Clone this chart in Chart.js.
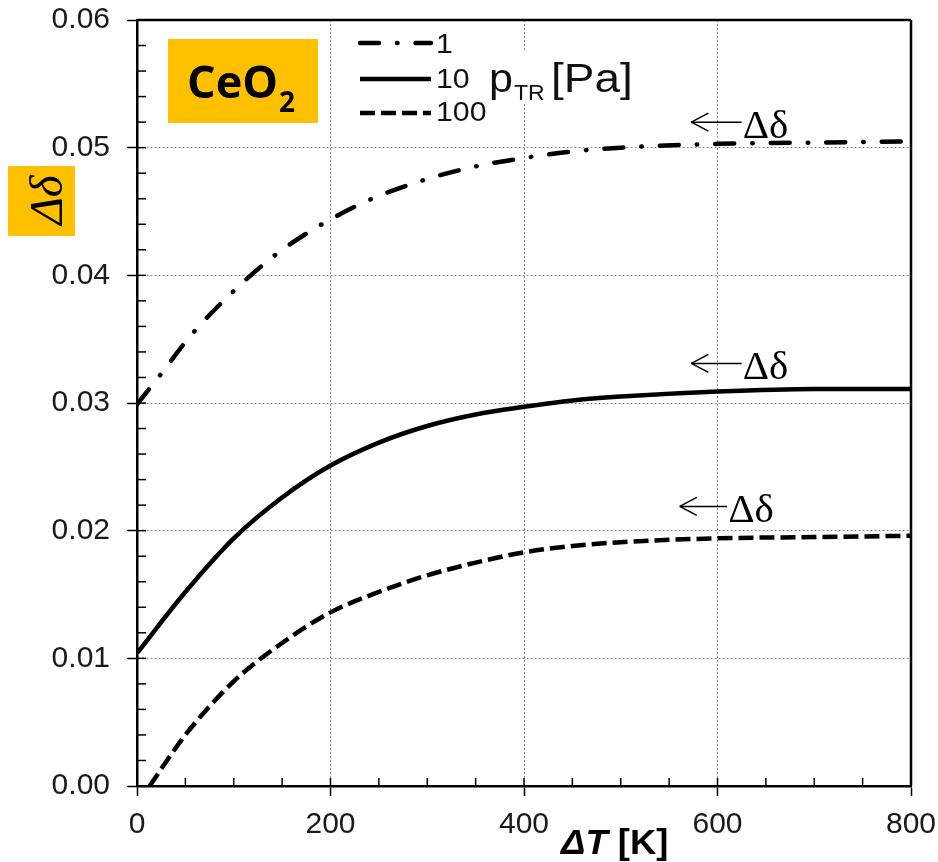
<!DOCTYPE html>
<html><head><meta charset="utf-8">
<script src="https://cdn.jsdelivr.net/npm/chart.js@4.4.1/dist/chart.umd.min.js"></script>
<style>html,body{margin:0;padding:0;background:#fff;}canvas{display:block;}</style>
</head><body>
<canvas id="c" width="938" height="862"></canvas>
<script>
// ---- data ----
const deltaT1   = [0, 22, 58, 99, 143, 191, 243, 298, 354, 392, 450, 500, 600, 700, 800];
const dd_p1     = [0.0299, 0.0320, 0.0355, 0.0387, 0.0416, 0.0440, 0.0460, 0.0475, 0.0486, 0.0491, 0.0497, 0.0500, 0.0503, 0.0504, 0.0505];
const deltaT10  = [0, 50, 100, 150, 200, 250, 300, 350, 400, 450, 500, 600, 700, 800];
const dd_p10    = [0.0104, 0.0152, 0.0194, 0.0226, 0.0251, 0.0269, 0.0282, 0.0291, 0.0297, 0.0302, 0.0305, 0.0309, 0.0311, 0.0311];
const deltaT100 = [13, 50, 100, 150, 200, 250, 300, 350, 400, 450, 500, 600, 700, 800];
const dd_p100   = [0.0000, 0.0040, 0.0082, 0.0112, 0.0136, 0.0152, 0.0165, 0.0175, 0.0183, 0.0188, 0.0191, 0.0194, 0.0195, 0.0196];
const pressures = ['1', '10', '100'];
const xTickVals = [0, 200, 400, 600, 800];
const yTickVals = [0, 0.01, 0.02, 0.03, 0.04, 0.05, 0.06];
const xMinorStep = 50;
const yMinorStep = 0.002;
// annotation arrows "←Δδ" (data coords)
const arrowTipX  = [573, 573, 561];
const arrowTailX = [625, 625, 610];
const arrowY     = [0.0520, 0.0331, 0.0219];

const pts = (xs, ys) => xs.map((v, i) => ({x: v, y: ys[i]}));
const DASHDOT = [19, 18, 0.5, 18];
const DASHED = [15, 6];
const styles = [
  {dash: DASHDOT, cap: 'round'},
  {dash: [], cap: 'butt'},
  {dash: DASHED, cap: 'butt'}
];
const ORANGE = '#FFC000';

function stretchText(ctx, txt, x, y, sx) {
  ctx.save(); ctx.translate(x, y); ctx.scale(sx, 1); ctx.fillText(txt, 0, 0); ctx.restore();
  return ctx.measureText(txt).width * sx;
}

const decor = {
  id: 'decor',
  beforeDraw(chart) {
    const ctx = chart.ctx;
    ctx.save(); ctx.fillStyle = '#fff'; ctx.fillRect(0, 0, chart.width, chart.height); ctx.restore();
  },
  afterDatasetsDraw(chart) {
    const {ctx, chartArea: a, scales: {x, y}} = chart;
    const line = (x1, y1, x2, y2) => { ctx.beginPath(); ctx.moveTo(x1, y1); ctx.lineTo(x2, y2); ctx.stroke(); };
    ctx.save();
    ctx.strokeStyle = '#000';
    ctx.lineWidth = 1.5;
    // minor (inside) ticks
    for (let v = 0; v <= 800 + 1e-9; v += xMinorStep) {
      const px = x.getPixelForValue(v);
      line(px, a.bottom, px, a.bottom - 8);
    }
    for (let v = 0; v <= 0.06 + 1e-9; v += yMinorStep) {
      const py = y.getPixelForValue(v);
      line(a.left, py, a.left + 9, py);
    }
    // frame top & right
    ctx.lineWidth = 2.5;
    line(a.left, a.top, a.right, a.top);
    line(a.right, a.top, a.right, a.bottom);

    // CeO2 box
    ctx.fillStyle = ORANGE;
    ctx.fillRect(168, 39, 150, 84);
    ctx.fillStyle = '#000';
    ctx.textBaseline = 'alphabetic';
    ctx.textAlign = 'left';
    ctx.font = 'bold 45px "Open Sans"';
    ctx.fillText('CeO', 187, 98);
    const w = ctx.measureText('CeO').width;
    ctx.font = 'bold 28px "Open Sans"';
    ctx.fillText('2', 187 + w + 1, 112);

    // legend
    const legY = [43, 79, 113];
    const legTextBase = [53, 88, 121];
    styles.forEach((s, i) => {
      ctx.save();
      ctx.lineWidth = 4.5;
      ctx.lineCap = s.cap;
      ctx.setLineDash(s.dash);
      line(360, legY[i], 431, legY[i]);
      ctx.restore();
      ctx.font = '28px "Liberation Sans"';
      ctx.fillStyle = '#111';
      stretchText(ctx, pressures[i], 436, legTextBase[i], 1.08);
    });
    ctx.fillStyle = '#fff';
    ctx.fillRect(486, 50, 156, 54);
    ctx.fillStyle = '#111';
    ctx.font = '41px "Liberation Sans"';
    stretchText(ctx, 'p', 489, 92, 1.05);
    ctx.font = '22px "Liberation Sans"';
    stretchText(ctx, 'TR', 514, 100, 1.05);
    ctx.font = '41px "Liberation Sans"';
    stretchText(ctx, '[Pa]', 551, 92, 1.12);

    // arrows
    ctx.strokeStyle = '#000';
    ctx.fillStyle = '#000';
    ctx.lineWidth = 1.5;
    arrowY.forEach((v, i) => {
      const yy = y.getPixelForValue(v);
      const xt = x.getPixelForValue(arrowTipX[i]);
      const xe = x.getPixelForValue(arrowTailX[i]);
      line(xt, yy, xe, yy);
      line(xt, yy, xt + 17, yy - 9);
      line(xt, yy, xt + 17, yy + 9);
      ctx.font = '39px "Liberation Serif"';
      stretchText(ctx, 'Δδ', xe + 1, yy + 16, 1.05);
    });

    // y title box
    ctx.fillStyle = ORANGE;
    ctx.fillRect(8, 166, 67, 70);
    ctx.save();
    ctx.translate(62, 200);
    ctx.rotate(-Math.PI / 2);
    ctx.fillStyle = '#000';
    ctx.textAlign = 'center';
    ctx.font = 'italic 47px "Liberation Serif"';
    ctx.fillText('Δδ', 0, 0);
    ctx.restore();

    // x title
    ctx.fillStyle = '#000';
    ctx.textAlign = 'left';
    ctx.font = 'italic bold 35px "Liberation Sans"';
    let xx = 561;
    xx += stretchText(ctx, 'ΔT ', xx, 854, 1.04);
    ctx.font = 'bold 35px "Liberation Sans"';
    stretchText(ctx, '[K]', xx, 854, 1.04);
    ctx.restore();
  }
};

new Chart(document.getElementById('c'), {
  type: 'line',
  data: {
    datasets: [
      {label: pressures[0], data: pts(deltaT1, dd_p1)},
      {label: pressures[1], data: pts(deltaT10, dd_p10)},
      {label: pressures[2], data: pts(deltaT100, dd_p100)}
    ].map((d, i) => Object.assign(d, {
      borderColor: '#000', borderWidth: 4.5, borderDash: styles[i].dash,
      borderCapStyle: styles[i].cap, pointRadius: 0, fill: false,
      cubicInterpolationMode: 'monotone'
    }))
  },
  options: {
    responsive: false, animation: false, devicePixelRatio: 1,
    layout: {padding: {left: 0, right: 27, top: 20, bottom: 0}},
    plugins: {legend: {display: false}, tooltip: {enabled: false}},
    scales: {
      x: {
        type: 'linear', min: 0, max: 800,
        afterBuildTicks: s => { s.ticks = xTickVals.map(v => ({value: v})); },
        afterFit: s => { s.height = 76; s.paddingLeft = 0; s.paddingRight = 0; },
        ticks: {font: {family: 'Liberation Sans', size: 30}, color: '#1a1a1a', padding: 11, maxRotation: 0},
        grid: {color: '#8c8c8c', lineWidth: 1, tickColor: '#000', tickLength: 10, tickWidth: 1.5},
        border: {color: '#000', width: 2.5, dash: [2, 2]}
      },
      y: {
        type: 'linear', min: 0, max: 0.06,
        afterBuildTicks: s => { s.ticks = yTickVals.map(v => ({value: v})); },
        afterFit: s => { s.width = 137; s.paddingTop = 0; s.paddingBottom = 0; },
        ticks: {font: {family: 'Liberation Sans', size: 30}, color: '#1a1a1a', padding: 17,
                callback: v => v.toFixed(2)},
        grid: {color: '#8c8c8c', lineWidth: 1, tickColor: '#000', tickLength: 10, tickWidth: 1.5},
        border: {color: '#000', width: 2.5, dash: [2, 2]}
      }
    }
  },
  plugins: [decor]
});
</script>
</body></html>
